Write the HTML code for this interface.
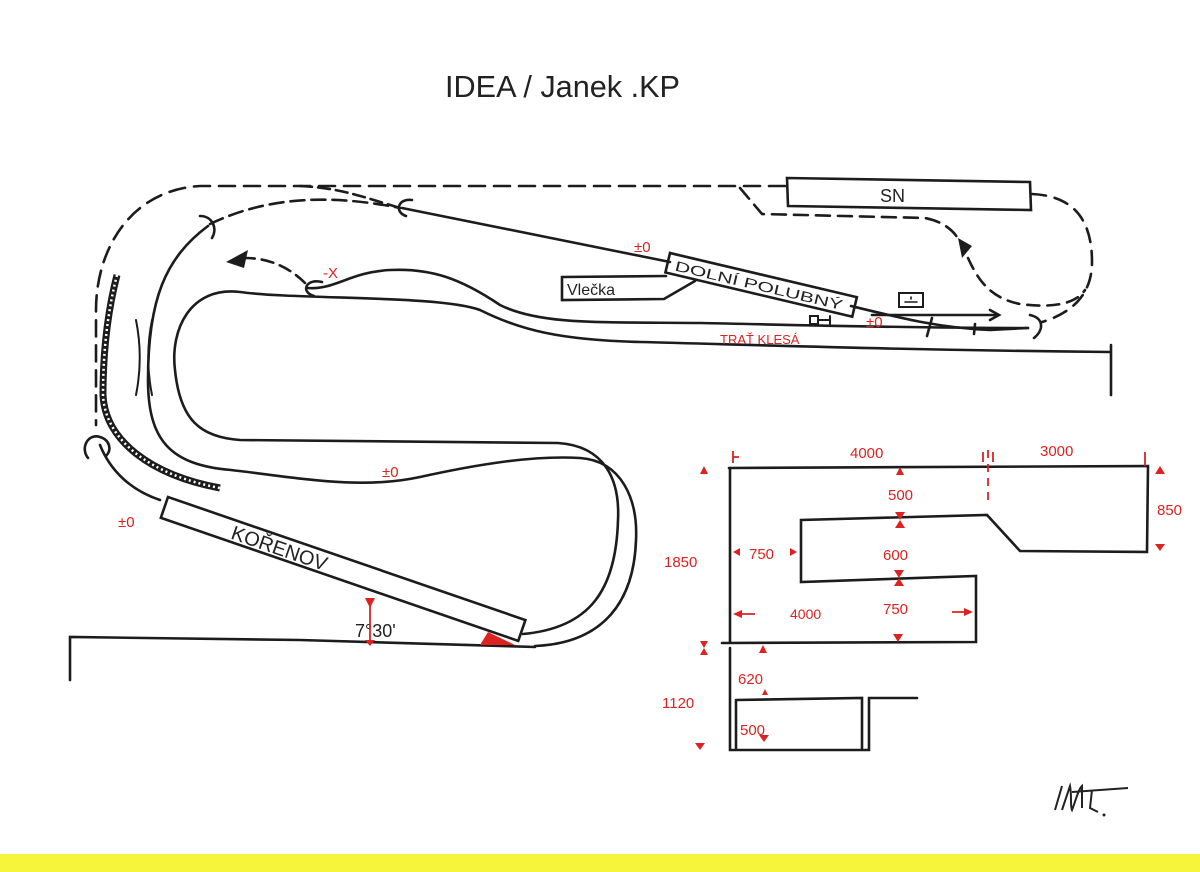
<!DOCTYPE html>
<html><head><meta charset="utf-8"><style>
html,body{margin:0;padding:0;background:#fff;}
svg{display:block;}
text{font-family:"Liberation Sans",sans-serif;}
</style></head><body>
<svg width="1200" height="872" viewBox="0 0 1200 872" xmlns="http://www.w3.org/2000/svg">
<rect width="1200" height="872" fill="#fff"/>
<rect x="0" y="854" width="1200" height="18" fill="#f7f43c"/>
<text x="445" y="97" font-size="31" fill="#222" textLength="235" lengthAdjust="spacingAndGlyphs">IDEA / Janek .KP</text>

<g fill="none" stroke="#1c1c1c" stroke-width="2.6" stroke-linecap="round">
<path d="M785,186 L200,186 C130,190 96,250 96,310 L96,425" stroke-dasharray="16,9"/>
<path d="M210,224 C260,200 320,192 400,208" stroke-dasharray="14,7"/>
<path d="M300,186 C340,188 360,196 400,208" stroke-dasharray="12,6"/>
<path d="M740,188 L762,214 L925,218 C945,222 955,232 960,242" stroke-dasharray="14,8"/>
<path d="M968,258 C978,280 990,298 1020,304 C1050,308 1075,305 1085,290" stroke-dasharray="12,8"/>
<path d="M1032,194 C1078,196 1092,225 1092,262 C1092,292 1075,312 1042,322" stroke-dasharray="14,9"/>
<path d="M305,283 C290,268 270,258 245,258" stroke-dasharray="12,7"/>
<path d="M787,178 L1030,182 L1031,210 L788,206 Z"/>
<path d="M402,208 L670,262"/>
<path d="M851,306 C900,318 940,328 990,330 L1028,328"/>
<path d="M872,315 L998,315"/>
<path d="M990,310 L999,315 L990,320"/>
<path d="M932,318 L927,336 M975,324 L974,334"/>
<g transform="translate(670,253) rotate(13.3)"><rect x="0" y="0" width="192" height="20"/></g>
<path d="M666,276 L562,277 L562,300 L664,299 L695,281"/>
<path d="M810,316 L818,316 L818,324 L810,324 Z M818,320 L830,320 M830,316 L830,324" stroke-width="2"/>
<rect x="899" y="293" width="24" height="14" stroke-width="2"/>
<path d="M905,302 L917,302 M911,297 L911,299" stroke-width="1.6"/>
<path d="M308,288 C335,290 350,272 390,270 C430,268 460,278 500,305 C540,325 600,322 700,323 C800,325 900,328 1028,328"/>
<path d="M1110,352 C900,350 760,345 640,342 C560,340 520,330 480,310 C440,295 300,300 240,292 C190,286 170,330 175,370 C180,420 200,437 240,440 L558,443 C605,446 620,480 618,520 C616,590 590,628 523,634"/>
<path d="M1111,345 L1111,395"/>
<path d="M208,226 C165,258 148,300 148,380 C148,440 170,465 231,470 C300,478 360,490 420,477 C470,466 530,455 580,458 C622,461 638,500 636,540 C634,600 605,643 535,646"/>
<path d="M136,320 C141,345 141,370 136,395 M152,320 C147,345 147,370 152,395" stroke-width="2"/>
<path d="M100,445 C110,470 130,490 160,500"/>
<g transform="translate(168,497) rotate(19)"><rect x="0" y="0" width="378" height="22"/></g>
<path d="M70,680 L70,637 L300,640 L535,647"/>
<path d="M200,216 C212,216 218,228 212,238"/>
<path d="M412,200 C398,198 394,212 406,216"/>
<path d="M322,282 C306,278 300,292 314,296"/>
<path d="M1030,315 C1044,318 1044,330 1034,338"/>
<path d="M88,458 C80,448 88,433 100,437 C110,440 112,450 106,456"/>
<path d="M729,468 L1148,466 L1147,552 L1020,551 L987,515 L801,520 L801,582 L976,576 L976,642 L722,643"/>
<path d="M730,468 L730,642 M730,648 L730,750 L869,750 L869,698 L917,698"/>
<path d="M736,700 L862,698 L862,748 M736,700 L736,748"/>
</g>
<path d="M117,275 C108,310 103,350 103,395 C105,440 150,475 220,488" fill="none" stroke="#1c1c1c" stroke-width="7"/>
<path d="M117,275 C108,310 103,350 103,395 C105,440 150,475 220,488" fill="none" stroke="#fff" stroke-width="2.5" stroke-dasharray="2,3"/>
<path d="M226,262 L248,250 L244,268 Z" fill="#1c1c1c"/>
<path d="M958,238 L972,246 L962,258 Z" fill="#1c1c1c"/>

<text x="880" y="202" font-size="18" fill="#222">SN</text>
<text transform="translate(670,253) rotate(13.3)" x="8" y="16" font-size="14" fill="#222" textLength="172" lengthAdjust="spacingAndGlyphs">DOLNÍ POLUBNÝ</text>
<text x="567" y="295" font-size="16" fill="#222">Vlečka</text>
<text transform="translate(168,497) rotate(19)" x="72" y="19" font-size="20" fill="#222">KOŘENOV</text>
<text x="355" y="637" font-size="18" fill="#222">7°30'</text>

<g fill="#d22" font-size="15">
<text x="118" y="527">±0</text>
<text x="382" y="477">±0</text>
<text x="634" y="252">±0</text>
<text x="866" y="327">±0</text>
<text x="323" y="278">-X</text>
<text x="720" y="344" font-size="13">TRAŤ KLESÁ</text>
<text x="850" y="458">4000</text>
<text x="1040" y="456">3000</text>
<text x="888" y="500">500</text>
<text x="883" y="560">600</text>
<text x="883" y="614">750</text>
<text x="749" y="559">750</text>
<text x="790" y="619" font-size="14">4000</text>
<text x="1157" y="515">850</text>
<text x="664" y="567">1850</text>
<text x="662" y="708">1120</text>
<text x="738" y="684">620</text>
<text x="740" y="735">500</text>
<path d="M480,645 L488,632 L515,645 Z"/>
<path d="M896,475 L904,475 L900,467 Z M895,512 L905,512 L900,520 Z M895,528 L905,528 L900,520 Z M894,570 L904,570 L899,578 Z M894,586 L904,586 L899,578 Z M893,634 L903,634 L898,642 Z"/>
<path d="M759,653 L767,653 L763,645 Z M762,695 L768,695 L765,689 Z M759,735 L769,735 L764,742 Z"/>
<path d="M700,474 L708,474 L704,466 Z M700,641 L708,641 L704,648 Z M700,655 L708,655 L704,648 Z M695,743 L705,743 L700,750 Z"/>
<path d="M1155,474 L1165,474 L1160,466 Z M1155,544 L1165,544 L1160,551 Z"/>
<path d="M733,552 L740,548 L740,556 Z M797,552 L790,548 L790,556 Z"/>
<path d="M733,614 L742,610 L742,618 Z M973,612 L964,608 L964,616 Z"/>
<path d="M365,598 L370,608 L375,598 Z M365,640 L375,640 L370,646 Z"/>
</g>
<g stroke="#d22" stroke-width="1.8" fill="none">
<path d="M988,450 L988,500" stroke-dasharray="8,6"/>
<path d="M733,451 L733,463 M739,457 L733,457 M983,452 L983,462 M993,452 L993,462 M1145,452 L1145,466"/>
<path d="M742,614 L755,614 M964,612 L952,612 M370,603 L370,642"/>
</g>
<path d="M1055,810 L1062,786 M1062,810 L1070,786 C1072,796 1070,806 1072,810 C1076,800 1078,790 1082,786 L1082,808 M1072,792 L1128,788 M1092,790 L1090,808 L1098,812" fill="none" stroke="#222" stroke-width="2"/>
<circle cx="1104" cy="815" r="1.5" fill="#222"/>
</svg>
</body></html>
